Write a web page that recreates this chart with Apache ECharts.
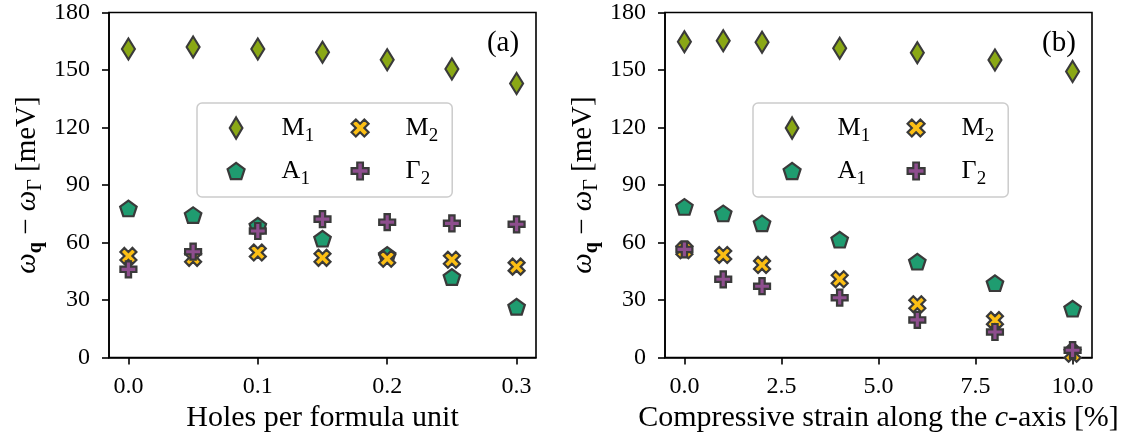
<!DOCTYPE html>
<html>
<head>
<meta charset="utf-8">
<script src="https://cdn.jsdelivr.net/npm/echarts@6/dist/echarts.min.js"></script>
<style>
  html, body { margin: 0; padding: 0; background: #fff; }
  #chart { width: 1138px; height: 442px; }
</style>
</head>
<body>
<div id="chart"></div>
<script>
// ---------- data ----------
const holes = [0, 0.05, 0.1, 0.15, 0.2, 0.25, 0.3];
const holesM1 = [161, 162, 161, 159.3, 155.3, 150.5, 143];
const holesA1 = [77.8, 74.3, 68.8, 62, 53.5, 42, 26.5];
const holesM2 = [53, 52, 54.8, 52, 51.5, 51, 47.4];
const holesG2 = [46, 55.2, 66, 72.2, 70.6, 70, 69.5];

const strain = [0, 1, 2, 4, 6, 8, 10];
const strainM1 = [164.7, 165.3, 164.5, 161.3, 159, 155.2, 149.2];
const strainA1 = [78.6, 75.2, 70, 61.5, 50, 38.8, 25.5];
const strainM2 = [56, 53.5, 48.3, 40.8, 27.8, 19.5, 2];
const strainG2 = [56.4, 40.8, 37.2, 31.2, 19.6, 13.3, 3.8];

const holesTicks = [0, 0.1, 0.2, 0.3];
const strainTicks = [0, 2.5, 5, 7.5, 10];
const yTicksInterval = 30;

const names = ['M1', 'A1', 'M2', 'Γ2'];
const panelTags = ['(a)', '(b)'];

// ---------- styles ----------
const FONT = '"Liberation Serif", "DejaVu Serif", serif';
const EDGE = '#3a3a3a';
const COLORS = { 'M1': '#8aa815', 'A1': '#1f9c70', 'M2': '#fcbf14', 'Γ2': '#8e4e8e' };
const SYMBOLS = {
  'M1': 'path://M0,-10 L6,0 L0,10 L-6,0 Z',
  'A1': 'path://M0,-100 L95.1,-30.9 L58.8,80.9 L-58.8,80.9 L-95.1,-30.9 Z',
  'M2': 'path://M-1,-2 L0,-1 L1,-2 L2,-1 L1,0 L2,1 L1,2 L0,1 L-1,2 L-2,1 L-1,0 L-2,-1 Z',
  'Γ2': 'path://M-1,-3 L1,-3 L1,-1 L3,-1 L3,1 L1,1 L1,3 L-1,3 L-1,1 L-3,1 L-3,-1 L-1,-1 Z'
};
const SIZES = { 'M1': [13, 21], 'A1': [16.5, 15.7], 'M2': [16, 16], 'Γ2': [16, 16] };

const GRID_TOP = 12.5, GRID_H = 345, GRID_W = 427;
const GRID_LEFTS = [109, 665];

function xAxisFor(gi, min, max, ticks, name) {
  return {
    gridIndex: gi, type: 'value', min: min, max: max,
    axisLine: { show: true, onZero: false, lineStyle: { color: '#000', width: 1.6 } },
    axisTick: { show: true, length: 7, customValues: ticks, lineStyle: { color: '#000', width: 1.6 } },
    axisLabel: { customValues: ticks, formatter: v => v.toFixed(1), fontFamily: FONT, fontSize: 24, color: '#000', margin: 17 },
    splitLine: { show: false },
    name: name, nameLocation: 'middle', nameGap: 44,
    nameTextStyle: {
      fontFamily: FONT, fontSize: 30, color: '#000',
      rich: {
        n: { fontFamily: FONT, fontSize: 30, color: '#000' },
        i: { fontFamily: FONT, fontSize: 30, fontStyle: 'italic', color: '#000' }
      }
    }
  };
}
function yAxisFor(gi) {
  return {
    gridIndex: gi, type: 'value', min: 0, max: 180, interval: yTicksInterval,
    axisLine: { show: true, onZero: false, lineStyle: { color: '#000', width: 1.6 } },
    axisTick: { show: true, length: 7, lineStyle: { color: '#000', width: 1.6 } },
    axisLabel: { fontFamily: FONT, fontSize: 24, color: '#000', margin: 19 },
    splitLine: { show: false },
    name: '{w|ω}{q|q}{n| − }{w|ω}{g|Γ}{n| [meV]}',
    nameLocation: 'middle', nameGap: 63,
    nameTextStyle: {
      color: '#000',
      rich: {
        w: { fontFamily: FONT, fontSize: 29, fontStyle: 'italic', lineHeight: 38, color: '#000' },
        n: { fontFamily: FONT, fontSize: 29, lineHeight: 38, color: '#000' },
        q: { fontFamily: FONT, fontSize: 20, fontWeight: 'bold', verticalAlign: 'bottom', color: '#000' },
        g: { fontFamily: FONT, fontSize: 20, verticalAlign: 'bottom', color: '#000' }
      }
    }
  };
}

function seriesFor(gi, xs, ys, name) {
  return {
    type: 'scatter', name: name, xAxisIndex: gi, yAxisIndex: gi,
    symbol: SYMBOLS[name], symbolSize: SIZES[name],
    itemStyle: { color: COLORS[name], borderColor: EDGE, borderWidth: 2.2, opacity: 1 },
    emphasis: { disabled: true },
    data: xs.map((x, i) => [x, ys[i]])
  };
}

const legendRich = {
  m: { fontFamily: FONT, fontSize: 26, lineHeight: 36, color: '#000' },
  s: { fontFamily: FONT, fontSize: 19, verticalAlign: 'bottom', color: '#000' }
};
function legendsFor(gi) {
  const boxLeft = GRID_LEFTS[gi] + 88;
  const boxTop = 103;
  const common = {
    orient: 'vertical', itemWidth: 17, itemHeight: 21, itemGap: 12,
    selectedMode: false,
    formatter: n => '{m|' + n[0] + '}{s|' + n.slice(1) + '}',
    textStyle: { padding: [0, 0, 0, 32], rich: legendRich },
    itemStyle: { borderColor: EDGE, borderWidth: 2.2 }
  };
  return [
    Object.assign({}, common, {
      data: ['M1', 'A1'], left: boxLeft, top: boxTop,
      padding: [12, 138, 8, 29.5],
      backgroundColor: 'rgba(255,255,255,0.8)', borderColor: '#cccccc', borderWidth: 1.5, borderRadius: 5, z: 4
    }),
    Object.assign({}, common, {
      data: ['M2', 'Γ2'], left: boxLeft + 153.5, top: boxTop + 12, padding: 0, z: 5
    })
  ];
}

const option = {
  animation: false,
  backgroundColor: '#ffffff',
  grid: GRID_LEFTS.map(l => ({
    left: l, top: GRID_TOP, width: GRID_W, height: GRID_H,
    show: true, borderColor: '#000', borderWidth: 1.6, backgroundColor: 'transparent',
    containLabel: false, outerBoundsMode: 'none'
  })),
  xAxis: [
    xAxisFor(0, -0.015, 0.315, holesTicks, 'Holes per formula unit'),
    xAxisFor(1, -0.5, 10.5, strainTicks, '{n|Compressive strain along the }{i|c}{n|-axis [%]}')
  ],
  yAxis: [yAxisFor(0), yAxisFor(1)],
  legend: legendsFor(0).concat(legendsFor(1)),
  series: [
    seriesFor(0, holes, holesM1, 'M1'),
    seriesFor(0, holes, holesA1, 'A1'),
    seriesFor(0, holes, holesM2, 'M2'),
    seriesFor(0, holes, holesG2, 'Γ2'),
    seriesFor(1, strain, strainM1, 'M1'),
    seriesFor(1, strain, strainA1, 'A1'),
    seriesFor(1, strain, strainM2, 'M2'),
    seriesFor(1, strain, strainG2, 'Γ2')
  ],
  graphic: panelTags.map((t, i) => ({
    type: 'text', x: GRID_LEFTS[i] + GRID_W - 33, y: 43, z: 10,
    style: { text: t, font: '29px ' + FONT, fill: '#000', align: 'center', verticalAlign: 'middle' }
  }))
};

const chart = echarts.init(document.getElementById('chart'), null, { renderer: 'canvas' });
chart.setOption(option);
</script>
</body>
</html>
